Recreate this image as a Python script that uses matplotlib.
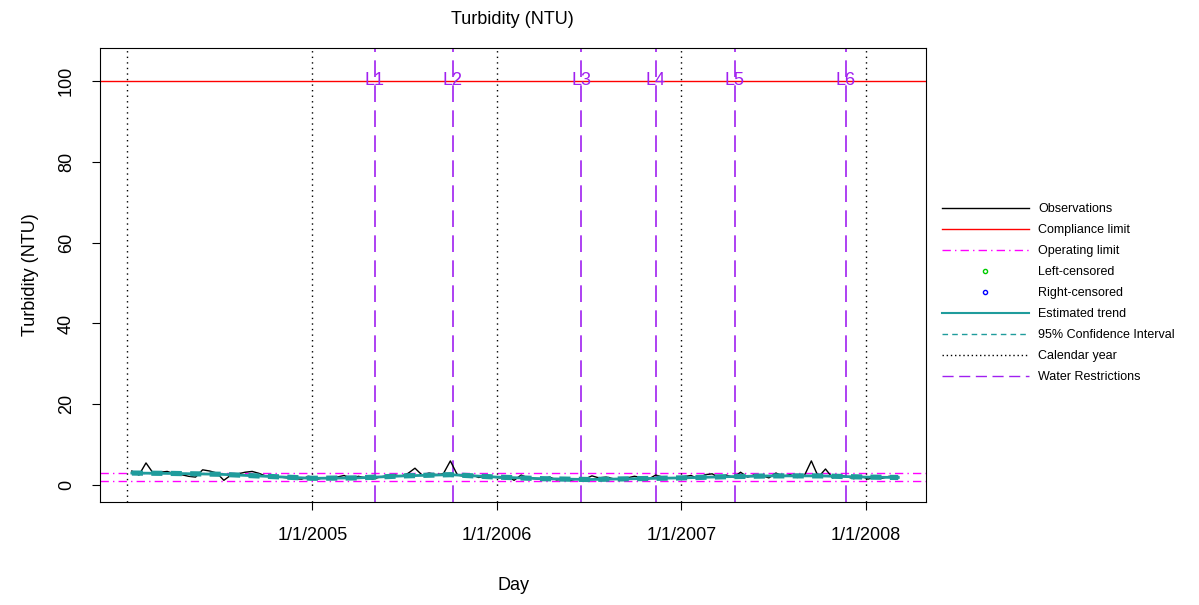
import numpy as np
import pandas as pd
import matplotlib
matplotlib.use("Agg")
import matplotlib.pyplot as plt
from matplotlib.lines import Line2D

plt.rcParams['font.family'] = ['Liberation Sans', 'DejaVu Sans']

# observations, roughly every two weeks
obs_values = [
    3.5, 2.5, 5.5, 3.0, 3.2, 3.4, 2.8, 2.6, 2.2, 2.0, 3.8, 3.5, 3.0, 1.2, 2.5, 2.8, 3.2, 3.4, 2.9, 2.2, 2.3, 2.0, 1.8, 1.6, 1.5, 2.2,
    1.4, 1.8, 1.5, 2.0, 2.4, 1.6, 2.2, 1.8, 1.5, 2.0, 2.3, 2.6, 2.2, 2.9, 4.2, 2.5, 3.0, 2.6, 2.8, 6.0, 2.5, 2.2, 2.6, 1.9, 2.3, 2.0,
    1.8, 2.3, 1.2, 2.5, 1.8, 1.6, 1.4, 2.0, 1.3, 1.5, 1.2, 1.6, 1.5, 2.3, 1.8, 2.0, 1.6, 1.4, 1.8, 2.2, 1.9, 1.5, 2.5, 2.0, 1.7, 1.8,
    2.1, 2.4, 1.6, 2.6, 2.8, 1.8, 2.5, 1.9, 3.2, 2.0, 2.6, 2.4, 1.8, 3.0, 2.2, 2.6, 1.9, 2.3, 6.0, 2.0, 4.0, 1.8, 2.5, 2.1, 1.6, 2.3,
    1.5, 2.0, 1.7, 2.2, 1.8,
]
obs_dates = pd.date_range("2004-01-10", periods=len(obs_values), freq="14D")

trend_dates = pd.to_datetime(["2004-01-10", "2004-04-01", "2004-07-01", "2004-10-01", "2005-01-01",
                              "2005-04-01", "2005-07-01", "2005-10-01", "2006-01-01", "2006-04-01",
                              "2006-07-01", "2006-10-01", "2007-01-01", "2007-04-01", "2007-07-01",
                              "2007-10-01", "2008-01-01", "2008-03-05"])
trend_values = [3.0, 2.9, 2.7, 2.2, 1.7, 1.8, 2.3, 2.6, 2.0, 1.6, 1.4, 1.6, 1.8, 2.1, 2.3, 2.3, 2.0, 1.9]
ci_half = 0.3

restr_dates = pd.to_datetime(["2005-05-04", "2005-10-06", "2006-06-17", "2006-11-11", "2007-04-17", "2007-11-22"])
restr_labels = ["L1", "L2", "L3", "L4", "L5", "L6"]
year_dates = pd.to_datetime(["2004-01-01", "2005-01-01", "2006-01-01", "2007-01-01", "2008-01-01"])
compliance = 100
operating = [1, 3]

fig = plt.figure(figsize=(11.99, 6.05), dpi=100)
ax = fig.add_axes([0.0834, 0.170, 0.689, 0.751])

teal = "#1f9c9c"
magenta = "#ff00ff"
purple = "#a020f0"
ax.axhline(compliance, color="red", lw=1)
for v in operating:
    ax.axhline(v, color=magenta, lw=1, ls=(0, (6, 3, 1, 3)))
for d in year_dates:
    ax.axvline(d, color="black", lw=1, ls=(0, (1, 3)))
for d, lab in zip(restr_dates, restr_labels):
    ax.axvline(d, color=purple, lw=1.2, ls=(0, (10, 5)))
    ax.text(d, 100, lab, color=purple, fontsize=13, ha="center", va="center")

ax.plot(obs_dates, obs_values, color="black", lw=1)
ax.plot(trend_dates, trend_values, color=teal, lw=2)
ax.plot(trend_dates, np.array(trend_values) + ci_half, color=teal, lw=2, ls=(0, (4, 3)))
ax.plot(trend_dates, np.array(trend_values) - ci_half, color=teal, lw=2, ls=(0, (4, 3)))

ax.set_xlim(pd.Timestamp("2003-11-08"), pd.Timestamp("2008-04-29"))
ax.set_ylim(-4.2, 108.2)
ax.set_yticks([0, 20, 40, 60, 80, 100])
ax.set_yticklabels(["0", "20", "40", "60", "80", "100"], rotation=90, va="center")
ax.set_xticks(year_dates[1:])
ax.set_xticklabels(["1/1/2005", "1/1/2006", "1/1/2007", "1/1/2008"])
ax.tick_params(labelsize=13, length=6, pad=12)
ax.set_xlabel("Day", fontsize=13, labelpad=24)
ax.set_ylabel("Turbidity (NTU)", fontsize=13, labelpad=14)
fig.text(0.4275, 0.967, "Turbidity (NTU)", fontsize=13, ha="center", va="center")

handles = [
    Line2D([], [], color="black", lw=1),
    Line2D([], [], color="red", lw=1),
    Line2D([], [], color=magenta, lw=1, ls=(0, (6, 3, 1, 3))),
    Line2D([], [], color="#00cc00", marker="o", ls="", ms=3, mfc="none"),
    Line2D([], [], color="blue", marker="o", ls="", ms=3, mfc="none"),
    Line2D([], [], color=teal, lw=1.5),
    Line2D([], [], color=teal, lw=1, ls=(0, (4, 3))),
    Line2D([], [], color="black", lw=1, ls=(0, (1, 2))),
    Line2D([], [], color=purple, lw=1, ls=(0, (8, 4))),
]
labels = ["Observations", "Compliance limit", "Operating limit", "Left-censored", "Right-censored",
          "Estimated trend", "95% Confidence Interval", "Calendar year", "Water Restrictions"]
fig.legend(handles, labels, loc="center left", bbox_to_anchor=(0.776, 0.515), frameon=False,
           fontsize=9, handlelength=7.0, handletextpad=0.7, labelspacing=0.72)

fig.savefig("out.png")
